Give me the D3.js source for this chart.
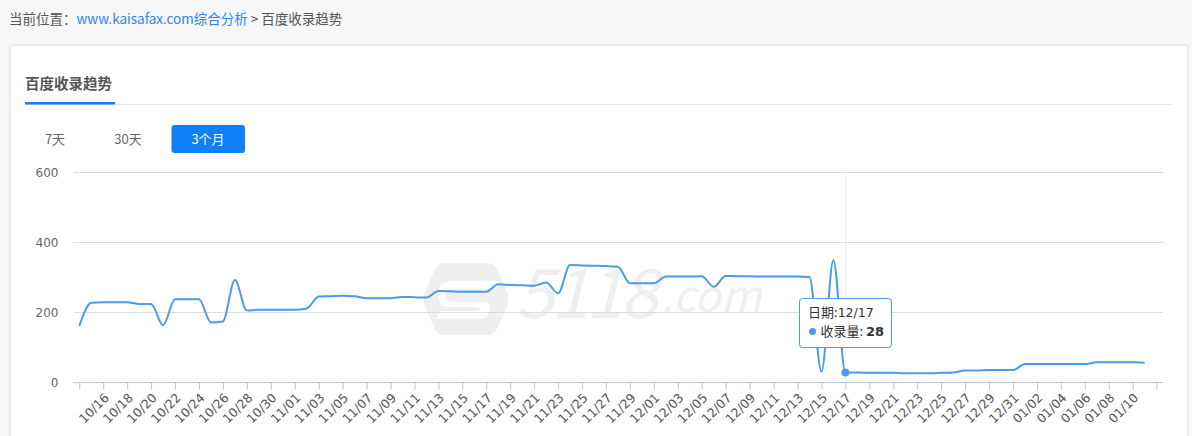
<!DOCTYPE html>
<html>
<head>
<meta charset="utf-8">
<script src="https://cdn.jsdelivr.net/npm/d3@7/dist/d3.min.js"></script>
<style>
  html, body { margin: 0; padding: 0; background: #f7f7f7; }
  body { width: 1192px; height: 436px; overflow: hidden; }
  svg text { font-family: "Noto Sans CJK SC", "DejaVu Sans", sans-serif; }
  .num { font-family: "DejaVu Sans", Verdana, sans-serif; }
</style>
</head>
<body>
<div id="chart"></div>
<script>

// categories (one per day), the last one has no value yet
var dates = [
  "10/14","10/15","10/16","10/17","10/18","10/19","10/20","10/21","10/22","10/23",
  "10/24","10/25","10/26","10/27","10/28","10/29","10/30","10/31","11/01","11/02",
  "11/03","11/04","11/05","11/06","11/07","11/08","11/09","11/10","11/11","11/12",
  "11/13","11/14","11/15","11/16","11/17","11/18","11/19","11/20","11/21","11/22",
  "11/23","11/24","11/25","11/26","11/27","11/28","11/29","11/30","12/01","12/02",
  "12/03","12/04","12/05","12/06","12/07","12/08","12/09","12/10","12/11","12/12",
  "12/13","12/14","12/15","12/16","12/17","12/18","12/19","12/20","12/21","12/22",
  "12/23","12/24","12/25","12/26","12/27","12/28","12/29","12/30","12/31","01/01",
  "01/02","01/03","01/04","01/05","01/06","01/07","01/08","01/09","01/10","01/11",
  "01/12"
];

// 收录量
var counts = [
  161, 227, 229, 229, 229, 224, 224, 163, 237, 237,
  237, 171, 174, 292, 205, 207, 207, 207, 207, 211,
  245, 246, 247, 246, 240, 240, 240, 244, 243, 242,
  261, 260, 259, 259, 259, 280, 278, 277, 276, 285,
  254, 335, 334, 333, 332, 330, 283, 283, 283, 302,
  302, 302, 303, 273, 304, 303, 303, 302, 302, 302,
  302, 301, 30, 349, 28, 28, 27, 27, 27, 26,
  26, 26, 27, 28, 34, 34, 35, 35, 35, 52,
  52, 52, 52, 52, 52, 57, 57, 57, 57, 56,
  null
];

var yTicks = [0, 200, 400, 600];
var tabs = ["7天", "30天", "3个月"];
var crumbs = ["当前位置：", "www.kaisafax.com综合分析", "\u00a0>\u00a0", "百度收录趋势"];
var title = "百度收录趋势";
var hoverDate = "12/17";

var W = 1192, H = 436;
var blue = "#4a9be8";

var svg = d3.select("#chart").append("svg")
    .attr("width", W)
    .attr("height", H);

// breadcrumb
var crumb = svg.append("text")
    .attr("x", 9)
    .attr("y", 24)
    .attr("font-size", 13.5)
    .attr("fill", "#555");
crumb.append("tspan").text(crumbs[0]);
crumb.append("tspan").attr("fill", "#2b86f0").text(crumbs[1]);
crumb.append("tspan").attr("fill", "#555").text(crumbs[2]);
crumb.append("tspan").text(crumbs[3]);

// card
var defs = svg.append("defs");
var f = defs.append("filter").attr("id", "shadow")
    .attr("x", "-5%").attr("y", "-5%").attr("width", "110%").attr("height", "120%");
f.append("feDropShadow").attr("dx", 0).attr("dy", 0)
    .attr("stdDeviation", 1.5).attr("flood-color", "#000").attr("flood-opacity", 0.08);

svg.append("rect")
    .attr("x", 10.5).attr("y", 45.5)
    .attr("width", 1177).attr("height", 420)
    .attr("fill", "#fff")
    .attr("stroke", "#e6e6e6")
    .attr("filter", "url(#shadow)");

// title + divider
svg.append("line")
    .attr("x1", 25).attr("x2", 1173)
    .attr("y1", 104.5).attr("y2", 104.5)
    .attr("stroke", "#e4e4e4");
svg.append("text")
    .attr("x", 25).attr("y", 89)
    .attr("font-size", 14.5)
    .attr("font-weight", "bold")
    .attr("fill", "#555")
    .text(title);
svg.append("rect")
    .attr("x", 25).attr("y", 102)
    .attr("width", 90).attr("height", 2.5)
    .attr("fill", "#1a7ef5");

// range tabs
var tabX = [55, 128, 208];
svg.append("rect")
    .attr("x", 171.5).attr("y", 125)
    .attr("width", 73.5).attr("height", 28)
    .attr("rx", 3)
    .attr("fill", "#0f80f7");
svg.selectAll(".tab")
    .data(tabs)
    .enter().append("text")
    .attr("class", "tab")
    .attr("x", function(d, i) { return tabX[i]; })
    .attr("y", 144)
    .attr("text-anchor", "middle")
    .attr("font-size", 13)
    .attr("fill", function(d, i) { return i === 2 ? "#fff" : "#666"; })
    .text(function(d) { return d; });

// scales
var xScale = d3.scalePoint()
    .domain(dates)
    .range([79.3, 1156.6]);

var yScale = d3.scaleLinear()
    .domain([0, 600])
    .range([382.3, 172.3]);

var left = 73.5, right = 1163;

// watermark
var wm = svg.append("g").attr("fill", "#efefef");
wm.append("path")
    .attr("d", "M444,263 L488,263 Q494,263 497,269 L507,292 Q510,299 507,306 L497,329 Q494,335 488,335 L444,335 Q438,335 435,329 L425,306 Q422,299 425,292 L435,269 Q438,263 444,263 Z");
wm.append("path")
    .attr("fill", "#fff")
    .attr("d", "M452,281 L500,281 L496,289 L452,289 Q446,289 446,295 L446,297 Q446,302 452,302 L482,302 Q492,302 490,311 Q488,319 478,319 L436,319 L440,311 L476,311 Q480,311 480,309 Q480,307 476,307 L452,307 Q438,307 438,297 L438,295 Q438,281 452,281 Z");
var big = wm.append("text")
    .attr("x", 516).attr("y", 318)
    .attr("font-size", 68)
    .attr("font-style", "italic")
    .attr("font-family", "DejaVu Sans")
    .attr("letter-spacing", -3)
    .text("5118");
var bigEnd = 516 + big.node().getComputedTextLength();
wm.append("text")
    .attr("x", bigEnd + 6).attr("y", 312)
    .attr("font-size", 44)
    .attr("font-style", "italic")
    .attr("font-family", "DejaVu Sans")
    .text(".com");

// grid lines
svg.append("g")
    .selectAll("line")
    .data(yTicks.filter(function(d) { return d > 0; }))
    .enter().append("line")
    .attr("x1", left).attr("x2", right)
    .attr("y1", function(d) { return Math.round(yScale(d)) + 0.5; })
    .attr("y2", function(d) { return Math.round(yScale(d)) + 0.5; })
    .attr("stroke", "#dcdcdc");

// y labels
svg.append("g")
    .selectAll("text")
    .data(yTicks)
    .enter().append("text")
    .attr("class", "num")
    .attr("x", 58.5)
    .attr("y", function(d) { return yScale(d); })
    .attr("dy", "0.35em")
    .attr("text-anchor", "end")
    .attr("font-size", 12)
    .attr("fill", "#666")
    .text(function(d) { return d; });

// hover guide line
svg.append("line")
    .attr("x1", xScale(hoverDate) + 0.5).attr("x2", xScale(hoverDate) + 0.5)
    .attr("y1", yScale(600)).attr("y2", yScale(0))
    .attr("stroke", "#ececec");

// x axis
var tickDates = dates.filter(function(d, i) { return i % 2 === 0; });
var xAxis = d3.axisBottom(xScale)
    .tickValues(tickDates)
    .tickSize(7)
    .tickFormat(function(d) {
        var i = dates.indexOf(d);
        return (i === 0 || i === dates.length - 1) ? "" : d;
    });

var gx = svg.append("g")
    .attr("transform", "translate(0," + (Math.round(yScale(0)) + 0.5) + ")")
    .call(xAxis);
gx.select(".domain").remove();
gx.selectAll("line").attr("stroke", "#b7c6d8");
gx.selectAll("text")
    .attr("class", "num")
    .attr("font-size", 12.5)
    .attr("fill", "#555")
    .attr("text-anchor", "end")
    .attr("x", 0).attr("y", 0).attr("dy", "0.35em")
    .attr("transform", "translate(3,13) rotate(-45)");
gx.append("line")
    .attr("x1", left).attr("x2", right)
    .attr("stroke", "#b7c6d8");

// the line
var valueline = d3.line()
    .defined(function(d) { return d != null; })
    .x(function(d, i) { return xScale(dates[i]); })
    .y(function(d) { return yScale(d); })
    .curve(d3.curveMonotoneX);

svg.append("path")
    .attr("fill", "none")
    .attr("stroke", blue)
    .attr("stroke-width", 2)
    .attr("d", valueline(counts));

// hovered point
var hi = dates.indexOf(hoverDate);
svg.append("circle")
    .attr("cx", xScale(hoverDate))
    .attr("cy", yScale(counts[hi]))
    .attr("r", 4)
    .attr("fill", blue);

// tooltip
var tip = svg.append("g").attr("transform", "translate(799.5,298.5)");
tip.append("rect")
    .attr("width", 92).attr("height", 49)
    .attr("rx", 3)
    .attr("fill", "#fff")
    .attr("stroke", blue);
var t1 = tip.append("text")
    .attr("x", 8.5).attr("y", 18.5)
    .attr("font-size", 13)
    .attr("fill", "#333");
t1.append("tspan").text("日期:");
t1.append("tspan").attr("class", "num").attr("font-size", 12.5).text(hoverDate);
tip.append("circle")
    .attr("cx", 13).attr("cy", 33)
    .attr("r", 3.5)
    .attr("fill", blue);
var t2 = tip.append("text")
    .attr("x", 21).attr("y", 37.5)
    .attr("font-size", 13)
    .attr("fill", "#333");
t2.append("tspan").text("收录量: ");
t2.append("tspan").attr("class", "num").attr("font-weight", "bold").text(counts[hi]);

</script>
</body>
</html>
